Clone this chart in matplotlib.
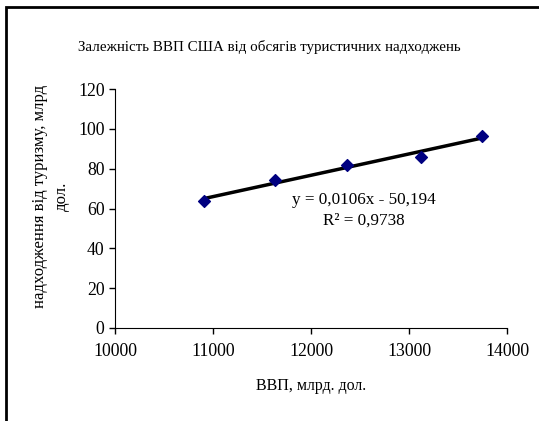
import matplotlib
matplotlib.use("Agg")
import matplotlib.pyplot as plt
import numpy as np
from matplotlib.patches import Rectangle

# US GDP (bn $) vs tourism receipts (bn $)
gdp = [10912, 11629, 12364, 13122, 13746]
receipts = [63.7, 74.5, 81.8, 85.9, 96.5]

x_ticks = [10000, 11000, 12000, 13000, 14000]
y_ticks = [0, 20, 40, 60, 80, 100, 120]

title = "Залежність ВВП США від обсягів туристичних надходжень"
x_label = "ВВП, млрд. дол."
y_label = "надходження від туризму, млрд\nдол."

plt.rcParams["font.family"] = ["Liberation Serif", "DejaVu Serif"]

W, H = 539, 421
fig = plt.figure(figsize=(W / 100, H / 100), dpi=100)

# outer chart frame (cropped on the right and bottom)
fig.patches.append(Rectangle((6 / W, -0.1), 1.2, 1 - 7 / H + 0.1,
                             transform=fig.transFigure, fill=False,
                             edgecolor="black", linewidth=2))

left, right = 115 / W, 507 / W
bottom, top = 1 - 328 / H, 1 - 89 / H
ax = fig.add_axes([left, bottom, right - left, top - bottom])

ax.scatter(gdp, receipts, marker="D", s=36, color="#000080", zorder=3)

# linear trend line
slope, intercept = np.polyfit(gdp, receipts, 1)
xs = np.array([min(gdp), max(gdp)])
ax.plot(xs, slope * xs + intercept, color="black", linewidth=2.5, zorder=2)

ax.set_xlim(10000, 14000)
ax.set_ylim(0, 120)
ax.set_xticks(x_ticks)
ax.set_yticks(y_ticks)
ax.tick_params(labelsize=12.8, direction="out", length=4, width=1)
ax.tick_params(axis="x", pad=7)
for side in ("top", "right"):
    ax.spines[side].set_visible(False)

ax.text(12540, 64.5, "y = 0,0106x - 50,194", ha="center", va="center",
        fontsize=12.3)
ax.text(12540, 54, "R² = 0,9738", ha="center", va="center",
        fontsize=12.3)

fig.text(0.5, 1 - 47 / H, title, ha="center", va="center", fontsize=10.8)
fig.text(311 / W, 1 - 386 / H, x_label, ha="center", va="center",
         fontsize=11.5)
fig.text(51 / W, 1 - 196 / H, y_label, ha="center", va="center",
         rotation=90, fontsize=12, linespacing=1.5)

fig.savefig("out.png", dpi=100)
